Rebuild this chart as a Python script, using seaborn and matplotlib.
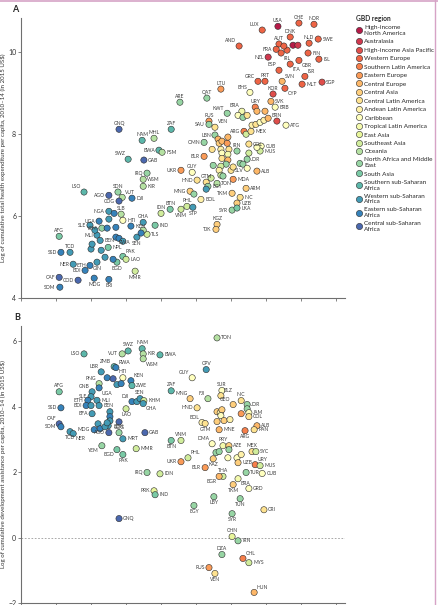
import matplotlib
matplotlib.use("Agg")
import matplotlib.pyplot as plt
from matplotlib.lines import Line2D
import seaborn as sns
import pandas as pd

# GBD regions, in legend order
regions = [
    "High-income North America", "Australasia", "High-income Asia Pacific",
    "Western Europe", "Southern Latin America", "Eastern Europe",
    "Central Europe", "Central Asia", "Central Latin America",
    "Andean Latin America", "Caribbean", "Tropical Latin America",
    "East Asia", "Southeast Asia", "Oceania", "North Africa and Middle East",
    "South Asia", "Southern sub-Saharan Africa", "Western sub-Saharan Africa",
    "Eastern sub-Saharan Africa", "Central sub-Saharan Africa",
]
legend_labels = [
    "High-income\nNorth America", "Australasia", "High-income Asia Pacific",
    "Western Europe", "Southern Latin America", "Eastern Europe",
    "Central Europe", "Central Asia", "Central Latin America",
    "Andean Latin America", "Caribbean", "Tropical Latin America",
    "East Asia", "Southeast Asia", "Oceania", "North Africa and Middle\nEast",
    "South Asia", "Southern sub-Saharan\nAfrica", "Western sub-Saharan\nAfrica",
    "Eastern sub-Saharan\nAfrica", "Central sub-Saharan\nAfrica",
]

# Panel A: total health expenditure ("" = unlabelled point)
a_iso = [
    "USA", "", "LUX", "CHE", "NOR", "AND", "DNK", "AUT", "NLD", "SWE",
    "FRA", "", "", "IRL", "", "FIN", "NZL", "GBR", "ISL", "ESP",
    "ITA", "ISR", "GRC", "PRT", "SVN", "MLT", "SGP", "CYP", "KOR", "SVK",
    "BHS", "LTU", "QAT", "ARE", "BRB", "URY", "", "", "BRA", "KWT",
    "", "", "", "BRN", "ATG", "RUS", "SAU", "VEN", "", "",
    "", "", "", "ARG", "", "MEX", "LBN", "OMN", "COL", "IRN",
    "CUB", "MUS", "", "", "", "", "", "", "", "",
    "", "", "", "", "", "", "", "", "", "JOR",
    "", "", "ALB", "SLV", "", "", "", "", "MDA", "TON",
    "", "ARM", "TKM", "NIC", "UZB", "SYR", "LKA", "KGZ", "TJK", "BLR",
    "UKR", "GUY", "HND", "GTM", "", "MNG", "", "EGY", "", "BOL",
    "PHL", "STP", "VNM", "BTN", "IDN", "ZAF", "MHL", "NAM", "GNQ", "BWA",
    "FSM", "SWZ", "GAB", "IRQ", "WSM", "KIR", "LSO", "SDN", "VUT", "AGO",
    "DJI", "COG", "NGA", "", "SLB", "HTI", "", "UGA", "KEN", "GHA",
    "IND", "SLE", "YEM", "", "", "MLI", "", "RWA", "", "",
    "TLS", "", "SEN", "", "BEN", "NPL", "", "", "", "PAK",
    "LAO", "BGD", "ETH", "GIN", "", "", "NER", "BDI", "AFG", "SSD",
    "TCD", "CAF", "COD", "SOM", "MDG", "ERI", "MMR",
]
a_region = [
    0, 0, 3, 3, 3, 3, 3, 3, 3, 3,
    3, 1, 3, 3, 3, 3, 1, 3, 3, 3,
    3, 3, 3, 3, 6, 3, 2, 3, 2, 6,
    10, 5, 15, 15, 10, 4, 6, 6, 11, 15,
    10, 15, 8, 2, 10, 5, 15, 8, 9, 8,
    10, 9, 6, 4, 13, 8, 15, 15, 8, 15,
    10, 13, 10, 13, 6, 7, 6, 5, 8, 9,
    8, 10, 11, 8, 6, 15, 13, 6, 15, 15,
    15, 10, 6, 8, 9, 13, 15, 8, 5, 14,
    15, 7, 7, 8, 7, 15, 16, 7, 7, 5,
    5, 10, 8, 8, 13, 7, 15, 15, 18, 9,
    13, 18, 13, 16, 13, 17, 14, 17, 20, 17,
    14, 17, 20, 15, 14, 14, 17, 15, 14, 20,
    19, 20, 18, 19, 14, 10, 18, 19, 19, 18,
    16, 18, 15, 19, 19, 18, 18, 19, 19, 18,
    13, 14, 18, 19, 18, 16, 18, 18, 18, 16,
    13, 16, 19, 18, 18, 19, 18, 19, 16, 19,
    18, 20, 20, 19, 19, 19, 13,
]
a_gdp = [
    14.34, 14.77, 13.89, 14.94, 15.37, 13.23, 14.69, 14.37, 15.23, 15.49,
    14.29, 14.91, 14.60, 14.43, 14.51, 15.20, 14.06, 14.94, 15.51, 14.37,
    14.69, 15.11, 13.77, 13.97, 14.46, 15.03, 15.60, 14.54, 14.20, 14.14,
    13.54, 12.71, 12.31, 11.54, 14.26, 13.69, 13.74, 13.97, 13.31, 12.89,
    13.20, 13.34, 13.46, 14.31, 14.57, 12.37, 12.37, 12.54, 13.60, 13.71,
    13.83, 13.94, 14.06, 13.37, 13.43, 13.57, 12.54, 12.23, 13.51, 13.17,
    13.86, 13.83, 13.74, 13.51, 12.63, 12.66, 12.74, 12.89, 12.46, 12.71,
    12.94, 12.74, 12.91, 12.74, 12.91, 12.86, 12.71, 12.91, 13.26, 13.46,
    13.34, 13.46, 13.74, 13.00, 12.66, 12.71, 12.49, 13.06, 13.06, 12.60,
    12.77, 13.43, 13.03, 13.26, 13.17, 13.03, 13.17, 12.60, 12.57, 12.23,
    11.57, 11.89, 12.03, 12.29, 12.43, 11.83, 11.94, 12.34, 12.29, 12.14,
    11.74, 11.91, 11.57, 11.26, 11.00, 11.29, 10.80, 10.46, 9.80, 10.94,
    11.03, 10.06, 10.51, 10.60, 10.49, 10.49, 8.80, 9.77, 9.89, 9.51,
    10.17, 9.80, 9.51, 9.66, 9.86, 9.91, 9.51, 9.23, 10.14, 10.49,
    10.83, 8.97, 9.31, 9.46, 9.71, 9.17, 9.11, 9.71, 9.80, 9.91,
    10.60, 10.49, 10.31, 10.43, 9.26, 9.49, 9.29, 9.00, 9.03, 9.91,
    10.00, 9.74, 8.97, 9.17, 9.40, 9.63, 8.49, 8.83, 8.09, 8.14,
    8.40, 8.09, 8.63, 8.11, 9.09, 9.51, 10.26,
]
a_the = [
    10.63, 10.17, 10.54, 10.71, 10.68, 10.15, 10.37, 10.20, 10.22, 10.32,
    10.07, 10.17, 10.05, 9.98, 10.15, 9.98, 9.88, 9.80, 9.83, 9.56,
    9.71, 9.41, 9.29, 9.29, 9.29, 9.22, 9.27, 9.12, 8.98, 8.80,
    9.02, 9.10, 8.88, 8.78, 8.66, 8.66, 8.56, 8.56, 8.56, 8.51,
    8.46, 8.41, 8.46, 8.32, 8.22, 8.32, 8.24, 8.17, 8.22, 8.24,
    8.29, 8.34, 8.39, 8.07, 8.00, 8.07, 7.98, 7.80, 7.76, 7.59,
    7.71, 7.59, 7.68, 7.54, 7.88, 7.78, 7.83, 7.78, 7.63, 7.63,
    7.63, 7.54, 7.51, 7.41, 7.37, 7.27, 7.22, 7.93, 7.29, 7.39,
    7.27, 7.17, 7.10, 7.12, 7.12, 7.00, 7.24, 7.20, 6.90, 6.80,
    6.98, 6.68, 6.56, 6.46, 6.32, 6.15, 6.20, 5.80, 5.68, 7.46,
    7.12, 7.07, 6.88, 6.83, 6.93, 6.61, 6.54, 6.73, 6.66, 6.41,
    6.24, 6.22, 6.17, 6.17, 6.07, 8.12, 7.90, 7.85, 8.12, 7.61,
    7.56, 7.39, 7.37, 7.05, 6.90, 6.73, 6.59, 6.59, 6.46, 6.51,
    6.44, 6.37, 6.12, 6.07, 6.05, 5.90, 5.93, 5.88, 5.76, 5.85,
    5.78, 5.78, 5.71, 5.71, 5.73, 5.54, 5.66, 5.49, 5.46, 5.39,
    5.56, 5.66, 5.49, 5.59, 5.41, 5.24, 5.17, 5.20, 5.32, 5.02,
    4.95, 4.88, 4.80, 4.88, 5.00, 4.95, 4.83, 4.68, 5.51, 5.12,
    5.12, 4.51, 4.44, 4.27, 4.49, 4.46, 4.66,
]

# Panel B: development assistance for health
b_iso = [
    "TON", "LSO", "VUT", "SWZ", "NAM", "KIR", "WSM", "BWA", "ZMB", "RWA",
    "LBR", "HTI", "KEN", "PNG", "", "", "UGA", "", "", "ZWE",
    "GNB", "SLE", "AFG", "ZAF", "ETH", "BDI", "", "MLI", "BEN", "BFA",
    "DJI", "", "SEN", "KHM", "GHA", "LAO", "SSD", "", "", "",
    "", "CAF", "SOM", "MDG", "", "", "", "", "COG", "TCD",
    "NER", "AGO", "SDN", "MRT", "GAB", "BTN", "VNM", "YEM", "BGD", "PAK",
    "MMR", "UKR", "PHL", "BLR", "IRQ", "IDN", "PRK", "IND", "EGY", "GNQ",
    "CPV", "GUY", "SUR", "BLZ", "MNG", "FJI", "NIC", "GEO", "JOR", "",
    "HND", "JAM", "", "", "", "", "", "COL", "BOL", "GTM",
    "", "", "", "ALB", "PAN", "MNE", "ARG", "DMA", "PRY", "AZE",
    "", "MEX", "SYC", "", "", "", "KAZ", "", "", "UZB",
    "URY", "MUS", "CUB", "TUR", "THA", "BGR", "BRA", "TKM", "GRD", "LBY",
    "TUN", "CRI", "SYR", "CHN", "IRN", "DZA", "CHL", "MYS", "RUS", "VEN",
    "HUN",
]
b_region = [
    14, 17, 14, 17, 17, 14, 14, 17, 17, 19,
    18, 10, 19, 14, 19, 20, 19, 18, 19, 17,
    18, 18, 16, 17, 19, 19, 18, 18, 18, 18,
    19, 18, 18, 13, 18, 13, 19, 18, 19, 18,
    18, 20, 19, 19, 18, 19, 18, 18, 20, 18,
    18, 20, 15, 18, 20, 16, 13, 15, 16, 16,
    13, 5, 13, 5, 15, 13, 12, 16, 15, 20,
    18, 10, 10, 8, 7, 14, 8, 7, 15, 15,
    8, 10, 7, 9, 7, 10, 5, 8, 9, 8,
    7, 7, 9, 6, 8, 6, 4, 10, 11, 7,
    15, 8, 13, 15, 15, 10, 7, 10, 9, 7,
    4, 13, 10, 15, 13, 6, 11, 7, 10, 15,
    15, 8, 15, 12, 15, 15, 4, 13, 5, 8,
    6,
]
b_gdp = [
    12.60, 8.80, 9.89, 10.06, 10.46, 10.49, 10.49, 10.97, 9.66, 9.71,
    9.29, 9.91, 10.14, 9.23, 9.46, 9.63, 9.23, 9.74, 9.86, 10.17,
    9.03, 9.00, 8.09, 11.29, 8.91, 8.86, 9.00, 9.17, 9.23, 9.03,
    10.17, 10.31, 10.40, 10.51, 10.49, 10.00, 8.14, 9.54, 9.54, 9.54,
    9.49, 8.09, 8.14, 9.09, 9.20, 9.26, 9.40, 9.46, 9.80, 8.40,
    8.49, 9.51, 9.80, 9.91, 10.54, 11.29, 11.57, 9.31, 9.74, 9.91,
    10.29, 11.57, 11.77, 12.26, 10.60, 10.97, 10.80, 10.83, 11.94, 9.80,
    12.29, 11.89, 12.74, 12.71, 11.83, 12.34, 13.29, 13.06, 13.46, 13.46,
    12.03, 13.51, 12.60, 12.69, 12.74, 12.71, 13.29, 13.51, 12.17, 12.26,
    12.60, 12.80, 12.97, 13.74, 13.66, 12.66, 13.40, 12.46, 12.77, 12.94,
    12.94, 13.60, 13.71, 12.57, 12.66, 12.91, 12.49, 13.17, 13.29, 13.20,
    13.69, 13.83, 13.89, 13.43, 12.77, 12.66, 13.20, 13.06, 13.51, 12.51,
    13.26, 13.94, 13.03, 13.03, 13.20, 12.74, 13.34, 13.51, 12.37, 12.54,
    13.66,
]
b_dah = [
    6.11, 5.62, 5.62, 5.71, 5.78, 5.62, 5.47, 5.59, 5.23, 5.20,
    5.07, 4.89, 4.80, 4.71, 4.89, 4.86, 4.58, 4.68, 4.71, 4.65,
    4.46, 4.31, 4.46, 4.49, 4.20, 4.04, 4.04, 4.20, 4.04, 3.79,
    4.16, 4.16, 4.25, 4.19, 4.10, 3.94, 3.97, 3.85, 3.70, 3.57,
    3.42, 3.48, 3.39, 3.30, 3.48, 3.33, 3.39, 3.51, 3.54, 3.24,
    3.18, 3.21, 3.21, 3.02, 3.21, 2.97, 2.97, 2.81, 2.69, 2.54,
    2.72, 2.32, 2.44, 2.14, 1.99, 1.95, 1.43, 1.31, 0.98, 0.58,
    5.14, 4.89, 4.50, 4.34, 4.25, 4.25, 4.19, 4.07, 4.07, 3.94,
    3.97, 3.82, 3.85, 3.82, 3.91, 3.73, 3.79, 3.70, 3.52, 3.49,
    3.55, 3.58, 3.61, 3.42, 3.30, 3.30, 3.27, 2.87, 2.81, 2.81,
    2.69, 2.63, 2.63, 2.60, 2.63, 2.44, 2.41, 2.44, 2.54, 2.29,
    2.23, 2.20, 1.96, 1.99, 1.87, 1.87, 1.80, 1.62, 1.50, 1.25,
    1.19, 0.85, 0.73, 0.03, -0.10, -0.52, -0.64, -0.77, -0.92, -1.10,
    -1.68,
]

# where each country label sits relative to its point
side_a = {
    "USA": "t", "LUX": "tl", "CHE": "t", "NOR": "t", "AND": "tl", "DNK": "t",
    "AUT": "t", "NLD": "t", "SWE": "r", "FRA": "l", "IRL": "br", "FIN": "r",
    "NZL": "l", "GBR": "br", "ISL": "r", "ESP": "tl", "ITA": "br", "ISR": "tr",
    "GRC": "tl", "PRT": "t", "SVN": "tr", "MLT": "r", "SGP": "r", "CYP": "br",
    "KOR": "t", "SVK": "r", "BHS": "tl", "LTU": "t", "QAT": "t", "ARE": "t",
    "BRB": "r", "URY": "t", "BRA": "tl", "KWT": "tl", "BRN": "t", "ATG": "r",
    "RUS": "t", "SAU": "l", "VEN": "tr", "ARG": "l", "MEX": "r", "LBN": "l",
    "OMN": "l", "COL": "r", "IRN": "t", "CUB": "r", "MUS": "r", "JOR": "r",
    "ALB": "r", "SLV": "r", "MDA": "r", "TON": "r", "ARM": "r", "TKM": "l",
    "NIC": "r", "UZB": "r", "SYR": "l", "LKA": "r", "KGZ": "t", "TJK": "l",
    "BLR": "l", "UKR": "l", "GUY": "t", "HND": "l", "GTM": "t", "MNG": "l",
    "EGY": "r", "BOL": "r", "PHL": "t", "STP": "b", "VNM": "b", "BTN": "t",
    "IDN": "t", "ZAF": "t", "MHL": "t", "NAM": "t", "GNQ": "t", "BWA": "l",
    "FSM": "r", "SWZ": "tl", "GAB": "r", "IRQ": "l", "WSM": "r", "KIR": "r",
    "LSO": "tl", "SDN": "t", "VUT": "tr", "AGO": "l", "DJI": "r", "COG": "l",
    "NGA": "l", "SLB": "t", "HTI": "r", "UGA": "l", "KEN": "r", "GHA": "t",
    "IND": "r", "SLE": "l", "YEM": "l", "MLI": "l", "RWA": "br", "TLS": "r",
    "SEN": "b", "BEN": "r", "NPL": "r", "PAK": "tr", "LAO": "r", "BGD": "b",
    "ETH": "l", "GIN": "b", "NER": "l", "BDI": "l", "AFG": "t", "SSD": "l",
    "TCD": "t", "CAF": "l", "COD": "l", "SOM": "l", "MDG": "b", "ERI": "b",
    "MMR": "b",
}
side_b = {
    "TON": "r", "LSO": "l", "VUT": "l", "SWZ": "t", "NAM": "t", "KIR": "r",
    "WSM": "br", "BWA": "r", "ZMB": "tl", "RWA": "tr", "LBR": "tl", "HTI": "t",
    "KEN": "tr", "PNG": "tl", "UGA": "br", "ZWE": "r", "GNB": "tl", "SLE": "l",
    "AFG": "t", "ZAF": "t", "ETH": "l", "BDI": "l", "MLI": "r", "BEN": "r",
    "BFA": "l", "DJI": "tl", "SEN": "t", "KHM": "r", "GHA": "br", "LAO": "b",
    "SSD": "l", "CAF": "tl", "SOM": "l", "MDG": "l", "COG": "b", "TCD": "b",
    "NER": "br", "AGO": "l", "SDN": "t", "MRT": "r", "GAB": "r", "BTN": "b",
    "VNM": "t", "YEM": "bl", "BGD": "bl", "PAK": "b", "MMR": "r", "UKR": "l",
    "PHL": "tr", "BLR": "l", "IRQ": "l", "IDN": "r", "PRK": "l", "IND": "r",
    "EGY": "b", "GNQ": "r", "CPV": "t", "GUY": "tl", "SUR": "t", "BLZ": "tr",
    "MNG": "tl", "FJI": "tl", "NIC": "t", "GEO": "tl", "JOR": "r", "HND": "l",
    "JAM": "r", "COL": "r", "BOL": "tl", "GTM": "b", "ALB": "r", "PAN": "r",
    "MNE": "r", "ARG": "b", "DMA": "tl", "PRY": "t", "AZE": "r", "MEX": "t",
    "SYC": "r", "KAZ": "b", "UZB": "r", "URY": "tr", "MUS": "r", "CUB": "r",
    "TUR": "r", "THA": "t", "BGR": "bl", "BRA": "br", "TKM": "b", "GRD": "r",
    "LBY": "b", "TUN": "b", "CRI": "r", "SYR": "b", "CHN": "t", "IRN": "r",
    "DZA": "t", "CHL": "tr", "MYS": "r", "RUS": "l", "VEN": "b", "HUN": "tr",
}

OFFSETS = {
    "r": (3, 0, "left", "center"), "l": (-3, 0, "right", "center"),
    "t": (0, 2.5, "center", "bottom"), "b": (0, -2.5, "center", "top"),
    "tl": (-2, 2, "right", "bottom"), "tr": (2, 2, "left", "bottom"),
    "bl": (-2, -2, "right", "top"), "br": (2, -2, "left", "top"),
}

sns.set_style("ticks")
plt.rcParams["font.family"] = ["Lato", "DejaVu Sans"]

palette = dict(zip(regions, sns.color_palette("Spectral", len(regions))))
GREY = "#6f6f6f"


def draw_panel(ax, iso, region_idx, xs, ys, sides, ylim, yticks, ylabel):
    df = pd.DataFrame({"iso": iso, "region": [regions[i] for i in region_idx],
                       "x": xs, "y": ys})
    sns.scatterplot(data=df, x="x", y="y", hue="region", hue_order=regions,
                    palette=palette, s=20, edgecolor="#2b2b2b", linewidth=0.4,
                    legend=False, ax=ax, zorder=3)
    for code, x, y in zip(df["iso"], df["x"], df["y"]):
        if not code:
            continue
        dx, dy, ha, va = OFFSETS[sides.get(code, "r")]
        ax.annotate(code, (x, y), xytext=(dx, dy), textcoords="offset points",
                    ha=ha, va=va, fontsize=3.6, color="#3a3a3a", zorder=4)
    ax.set_xlim(7, 16.26)
    ax.set_ylim(*ylim)
    ax.set_xticks(range(7, 17))
    ax.set_xticklabels([])
    ax.set_yticks(yticks)
    ax.set_xlabel("")
    ax.set_ylabel(ylabel, fontsize=4.4, color="#333333")
    ax.yaxis.set_label_coords(-0.045, 0.5)
    ax.tick_params(length=2.5, width=0.6, color=GREY, labelsize=5,
                   labelcolor="#333333", pad=1)
    sns.despine(ax=ax)
    for s in ("left", "bottom"):
        ax.spines[s].set_color(GREY)
        ax.spines[s].set_linewidth(0.8)


fig = plt.figure(figsize=(4.38, 6.05), dpi=100)
ax_a = fig.add_axes([0.048, 0.507, 0.740, 0.463])
ax_b = fig.add_axes([0.048, 0.0035, 0.740, 0.458])

draw_panel(ax_a, a_iso, a_region, a_gdp, a_the, side_a, (4, 10.83), [4, 6, 8, 10],
           "Log of cumulative total health expenditure per capita, 2010\u201314 (in 2015 US$)")
draw_panel(ax_b, b_iso, b_region, b_gdp, b_dah, side_b, (-2, 6.48), [-2, 0, 2, 4, 6],
           "Log of cumulative development assistance per capita, 2010\u201314 (in 2015 US$)")
ax_b.axhline(0, color="#9a9a9a", lw=0.6, ls=(0, (2, 2)), zorder=1)

fig.text(12 / 438, 1 - 10 / 605, "A", fontsize=6.5, weight="bold", va="center")
fig.text(14 / 438, 1 - 318 / 605, "B", fontsize=6.5, weight="bold", va="center")

handles = [Line2D([], [], marker="o", ls="", markerfacecolor=palette[r],
                  markeredgecolor="#2b2b2b", markeredgewidth=0.4, markersize=4.5)
           for r in regions]
fig.legend(handles, legend_labels, loc="upper left",
           bbox_to_anchor=(356 / 438, 1 - 15 / 605), frameon=False,
           fontsize=4.6, title="GBD region",
           title_fontproperties={"weight": "bold", "size": 4.8},
           alignment="left", handletextpad=0.3, labelspacing=0.47,
           handlelength=1.0, borderaxespad=0, borderpad=0)

# page frame edges visible in the reference crop
pink = "#d6a3c6"
fig.add_artist(Line2D([0, 1], [0.999, 0.999], transform=fig.transFigure, color=pink, lw=1.2))
fig.add_artist(Line2D([435 / 438, 435 / 438], [0, 1], transform=fig.transFigure, color=pink, lw=1.0))

fig.savefig("out.png", dpi=100)
